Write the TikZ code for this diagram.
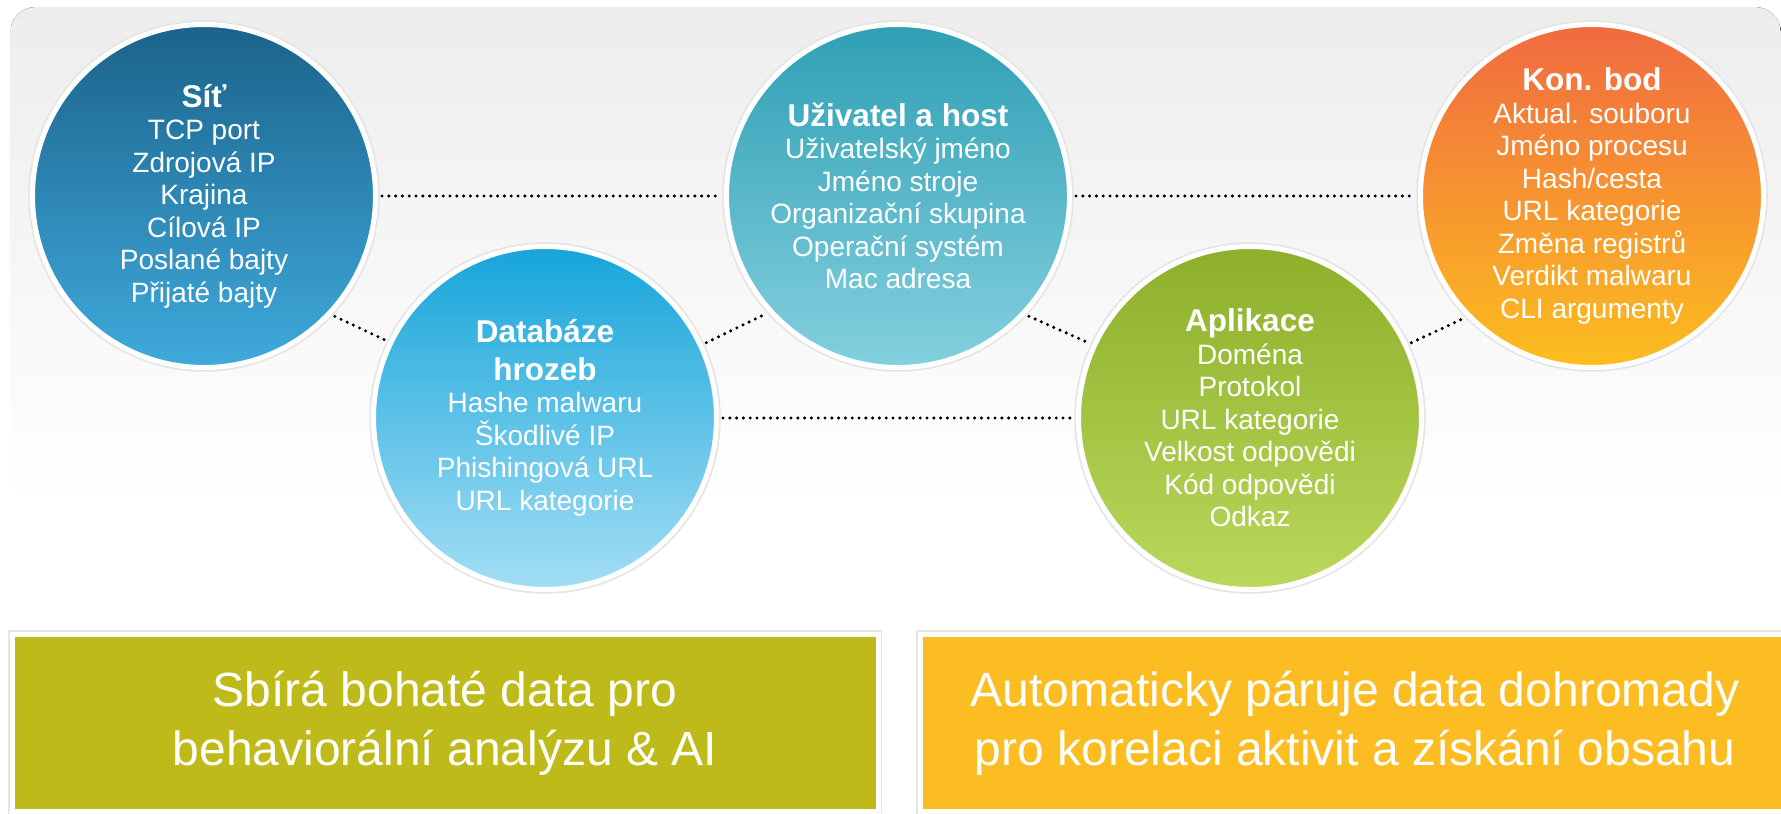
\documentclass[tikz,border=0pt]{standalone}
\usepackage{fontspec}
\setmainfont{Liberation Sans}
\usepackage{xcolor}
\usepackage{tikz}

\definecolor{panelTop}{HTML}{EDEDED}
\definecolor{netTop}{HTML}{1B638B}
\definecolor{netBot}{HTML}{3FAADC}
\definecolor{dbTop}{HTML}{16A5DA}
\definecolor{dbBot}{HTML}{A3DEF4}
\definecolor{userTop}{HTML}{2F9FB4}
\definecolor{userBot}{HTML}{84D0DF}
\definecolor{appTop}{HTML}{8DAF2A}
\definecolor{appBot}{HTML}{BAD85C}
\definecolor{endTop}{HTML}{F16A41}
\definecolor{endBot}{HTML}{FCBE1F}
\definecolor{collectOlive}{HTML}{BEBA19}
\definecolor{pairAmber}{HTML}{FBBD21}

\newcommand{\circtitle}[1]{{\fontsize{31.5}{33}\selectfont\bfseries #1}}

\begin{document}
\begin{tikzpicture}[x=1pt, y=-1pt,
    % Define styles for the nodes
    circle_node/.style={circle, minimum size=343pt, inner sep=0pt, align=center, text=white,
        font=\fontsize{28}{32.5}\selectfont, draw=white, line width=5pt,
        preaction={draw=black!10, line width=8.5pt}},
    data_box/.style={rectangle, minimum height=177pt, inner sep=0pt, align=center, text=white,
        font=\fontsize{48}{59}\selectfont, draw=white, line width=5pt,
        preaction={draw=black!10, line width=8.5pt}},
    % Style for the dotted links
    dot_link/.style={line width=3.4pt, line cap=round, dash pattern=on 0pt off 6.8pt,
        shorten <=4pt, shorten >=4pt}
]
    \useasboundingbox (0,0) rectangle (1781,814);

    % =========================================================================
    % BACKGROUND PANEL (fades out to white)
    % =========================================================================
    \fill[top color=panelTop, bottom color=white, middle color=white, rounded corners=26pt]
        (10,7) rectangle (1781,1000);

    % =========================================================================
    % DATA SOURCES (zig-zag row of circles)
    % =========================================================================
    \node (net_circle) [circle_node, top color=netTop, bottom color=netBot] at (204,196)
        {\circtitle{Síť}\\TCP port\\Zdrojová IP\\Krajina\\Cílová IP\\Poslané bajty\\Přijaté bajty};

    \node (threat_db) [circle_node, top color=dbTop, bottom color=dbBot] at (545,418)
        {\circtitle{Databáze}\\[5pt]\circtitle{hrozeb}\\Hashe malwaru\\Škodlivé IP\\Phishingová URL\\URL kategorie};

    \node (user_host) [circle_node, top color=userTop, bottom color=userBot] at (898,196)
        {\circtitle{Uživatel a host}\\Uživatelský jméno\\Jméno stroje\\Organizační skupina\\Operační systém\\Mac adresa};

    \node (app_circle) [circle_node, top color=appTop, bottom color=appBot] at (1250,418)
        {\circtitle{Aplikace}\\Doména\\Protokol\\URL kategorie\\Velkost odpovědi\\Kód odpovědi\\Odkaz};

    \node (endpoint) [circle_node, top color=endTop, bottom color=endBot] at (1592,196)
        {\circtitle{Kon. bod}\\Aktual. souboru\\Jméno procesu\\Hash/cesta\\URL kategorie\\Změna registrů\\Verdikt malwaru\\CLI argumenty};

    % Dotted links between the circles
    \draw [dot_link] (net_circle.east) -- (user_host.west);
    \draw [dot_link] (user_host.east) -- (endpoint.west);
    \draw [dot_link] (threat_db.east) -- (app_circle.west);
    \draw [dot_link] (net_circle.-43) -- (threat_db.154);
    \draw [dot_link] (threat_db.25) -- (user_host.222);
    \draw [dot_link] (user_host.-43) -- (app_circle.155);
    \draw [dot_link] (app_circle.25) -- (endpoint.224);

    % =========================================================================
    % SUMMARY BOXES
    % =========================================================================
    \node (collect_box) [data_box, fill=collectOlive, minimum width=866pt] at (445,723)
        {Sbírá bohaté data pro\\behaviorální analýzu \& AI};

    \node (pair_box) [data_box, fill=pairAmber, minimum width=870pt] at (1355,723)
        {Automaticky páruje data dohromady\\pro korelaci aktivit a získání obsahu};

\end{tikzpicture}
\end{document}
